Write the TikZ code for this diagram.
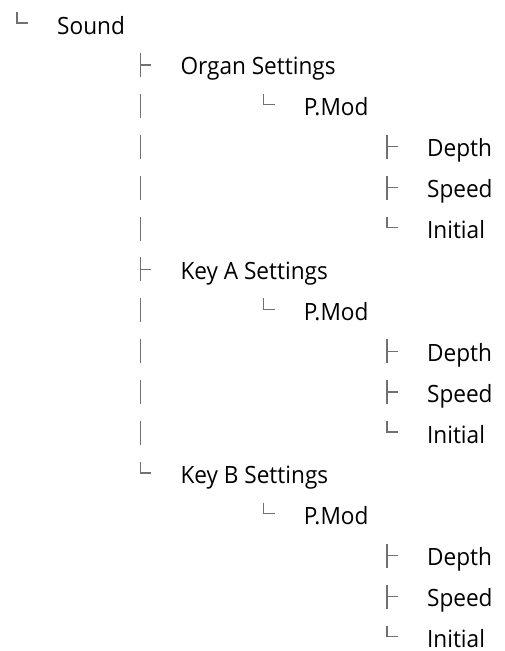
\documentclass[tikz,border=0pt]{standalone}
\usepackage{fontspec}
\setmainfont[FakeStretch=0.95]{Open Sans}
\definecolor{glyphgray}{RGB}{112,112,112}
\newcommand\glyphtee[2]{\draw[glyph] (#1,#2) -- (#1,#2+24) (#1,#2+12) -- (#1+11,#2+12);}
\newcommand\glyphell[2]{\draw[glyph] (#1,#2) -- (#1,#2+11) -- (#1+11,#2+11);}
\newcommand\glyphbar[2]{\draw[glyph] (#1,#2) -- (#1,#2+24);}
\newcommand\treerow[5]{%
  \pgfmathsetmacro\gx{17+123.3*#2}%
  \pgfmathsetmacro\gt{12+40.9*#3}%
  \node[lbl] (#1) at (\gx+40,\gt+22) {#5};
  \csname glyph#4\endcsname{\gx}{\gt}%
}
\newcommand\barrow[2]{%
  \pgfmathsetmacro\gx{17+123.3*#1}%
  \pgfmathsetmacro\gt{12+40.9*#2}%
  \glyphbar{\gx}{\gt}%
}
\begin{document}
\begin{tikzpicture}[x=1pt,y=-1pt,
  lbl/.style={anchor=base west,inner sep=0pt,font=\fontsize{23.8}{28}\selectfont,text=black},
  glyph/.style={draw=glyphgray,line width=1.3pt,line cap=butt,line join=miter}]
\useasboundingbox (0,0) rectangle (504,651);
\fill[white] (0,0) rectangle (504,651);
\treerow{sound}{0}{0}{ell}{Sound}
\treerow{organ}{1}{1}{tee}{Organ Settings}
\treerow{pmodo}{2}{2}{ell}{P.Mod}
\treerow{deptho}{3}{3}{tee}{Depth}
\treerow{speedo}{3}{4}{tee}{Speed}
\treerow{initialo}{3}{5}{ell}{Initial}
\treerow{keya}{1}{6}{tee}{Key A Settings}
\treerow{pmoda}{2}{7}{ell}{P.Mod}
\treerow{deptha}{3}{8}{tee}{Depth}
\treerow{speeda}{3}{9}{tee}{Speed}
\treerow{initiala}{3}{10}{ell}{Initial}
\treerow{keyb}{1}{11}{ell}{Key B Settings}
\treerow{pmodb}{2}{12}{ell}{P.Mod}
\treerow{depthb}{3}{13}{tee}{Depth}
\treerow{speedb}{3}{14}{tee}{Speed}
\treerow{initialb}{3}{15}{ell}{Initial}
\barrow{1}{2}\barrow{1}{3}\barrow{1}{4}\barrow{1}{5}
\barrow{1}{7}\barrow{1}{8}\barrow{1}{9}\barrow{1}{10}
\end{tikzpicture}
\end{document}
